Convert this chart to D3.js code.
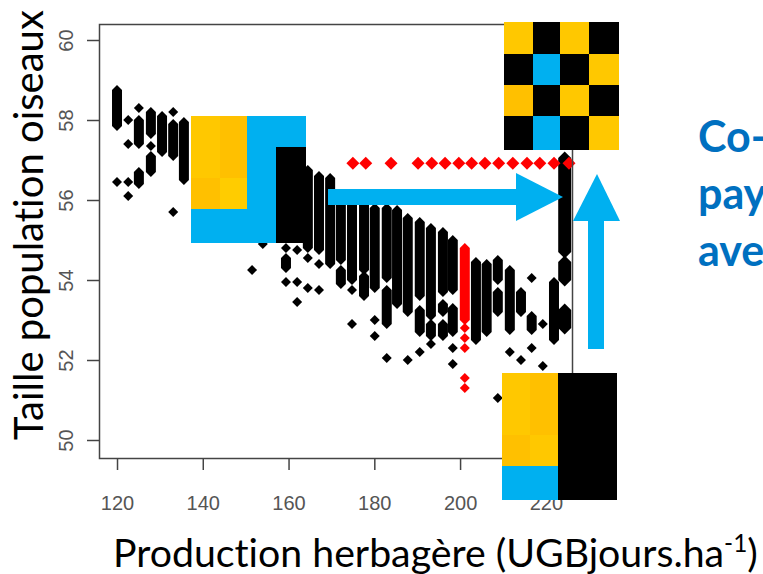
<!DOCTYPE html>
<html>
<head>
<meta charset="utf-8">
<script src="https://cdn.jsdelivr.net/npm/d3@7"></script>
<style>
  body { margin: 0; background: #fff; }
  svg { display: block; }
  text { font-variant-ligatures: none; }
</style>
</head>
<body>
<div id="chart"></div>
<script>
// --------------------------------------------------
// Taille population oiseaux vs production herbagère
// --------------------------------------------------

var width = 763;
var height = 574;

// axis ticks
var xTicks = [120, 140, 160, 180, 200, 220];
var yTicks = [50, 52, 54, 56, 58, 60];

// dense runs of black points: [production, top value, bottom value]
var blackRuns = [
  [120.0, 58.75, 57.85],
  [125.1, 58.0, 57.4], [125.1, 56.7, 56.4],
  [127.9, 58.2, 57.65], [127.9, 57.1, 56.7],
  [130.5, 58.1, 57.2],
  [133.1, 57.9, 57.1],
  [135.6, 57.95, 56.5],
  [159.4, 54.55, 54.3],
  [164.5, 56.75, 54.8],
  [167.1, 56.6, 54.75],
  [169.7, 56.55, 54.4],
  [172.2, 56.1, 54.5], [172.2, 54.25, 53.9],
  [174.8, 56.05, 54.0],
  [177.6, 55.9, 54.25], [177.6, 54.1, 53.6],
  [180.1, 55.8, 53.8],
  [182.9, 55.8, 54.05], [182.9, 53.75, 52.9],
  [185.3, 55.75, 53.4],
  [187.8, 55.55, 53.2],
  [190.6, 55.45, 53.6], [190.6, 53.25, 52.7],
  [193.2, 55.3, 53.1], [193.2, 52.9, 52.6],
  [196.0, 55.2, 53.7], [196.0, 53.4, 53.2], [196.0, 52.9, 52.6],
  [198.3, 55.0, 53.75], [198.3, 53.3, 52.7],
  [203.7, 54.45, 52.5],
  [206.2, 54.4, 52.7],
  [208.8, 54.5, 54.0], [208.8, 53.7, 53.2],
  [211.6, 54.25, 52.75],
  [214.2, 53.7, 53.2],
  [216.7, 53.1, 52.75],
  [221.9, 53.95, 52.5]
];

// single black points: [production, value]
var blackPoints = [
  [120.0, 56.45],
  [122.6, 58.0], [122.6, 57.4], [122.6, 56.45], [122.6, 56.1],
  [125.1, 58.3],
  [127.9, 57.35],
  [133.1, 58.2], [133.1, 55.7],
  [151.5, 54.25],
  [154.0, 54.9],
  [159.4, 54.8], [159.4, 53.95],
  [162.0, 54.75], [162.0, 53.95], [162.0, 53.45],
  [164.5, 54.55], [164.5, 53.8],
  [167.1, 54.4], [167.1, 53.75],
  [174.8, 53.75], [174.8, 52.9],
  [180.1, 53.0], [180.1, 52.6],
  [182.9, 52.05],
  [187.8, 52.0],
  [190.6, 52.2],
  [193.2, 52.4],
  [198.3, 52.3], [198.3, 51.9],
  [208.8, 51.05],
  [211.6, 52.2],
  [214.2, 52.0],
  [216.7, 54.05], [216.7, 52.3],
  [219.3, 52.9], [219.3, 51.85]
];

// last column (larger marks): [production, top value, bottom value]
var edgeRuns = [
  [224.4, 57.05, 54.7],
  [224.4, 54.45, 54.0],
  [224.4, 53.25, 52.8]
];

// red series
var redRowLevel = 56.92;
var redRowX = [175.0, 178.0, 183.9, 190.2, 193.4, 196.5, 199.7, 202.7,
               205.8, 209.0, 212.3, 215.6, 218.6, 221.9, 225.4];
var redRuns = [[201.1, 54.8, 53.0]];
var redPoints = [[201.1, 52.8], [201.1, 52.55], [201.1, 52.3], [201.1, 51.55], [201.1, 51.3]];

var blue = "#00B0F0";
var gold = "#FFC800";
var amber = "#FFC000";

var svg = d3.select("#chart")
  .append("svg")
  .attr("width", width)
  .attr("height", height);

svg.append("rect").attr("width", width).attr("height", height).attr("fill", "#fff");

var xScale = d3.scaleLinear().domain([115.8, 226.1]).range([99, 572]);
var yScale = d3.scaleLinear().domain([49.55, 60.4]).range([458, 24]);

// diamond shaped run from value a (top) to value b (bottom)
function diamondPath(x, a, b, r) {
  var cx = xScale(x), yt = yScale(a), yb = yScale(b);
  return "M" + cx + "," + (yt - r) +
    "L" + (cx + r) + "," + yt +
    "L" + (cx + r) + "," + yb +
    "L" + cx + "," + (yb + r) +
    "L" + (cx - r) + "," + yb +
    "L" + (cx - r) + "," + yt + "Z";
}

var plot = svg.append("g");

plot.selectAll(".run")
  .data(blackRuns)
  .enter()
  .append("path")
  .attr("d", function(d) { return diamondPath(d[0], d[1], d[2], 5); })
  .attr("fill", "#000");

plot.selectAll(".pt")
  .data(blackPoints)
  .enter()
  .append("path")
  .attr("d", function(d) { return diamondPath(d[0], d[1], d[1], 5); })
  .attr("fill", "#000");

plot.selectAll(".edge")
  .data(edgeRuns)
  .enter()
  .append("path")
  .attr("d", function(d) { return diamondPath(d[0], d[1], d[2], 6.5); })
  .attr("fill", "#000");

plot.selectAll(".redrun")
  .data(redRuns)
  .enter()
  .append("path")
  .attr("d", function(d) { return diamondPath(d[0], d[1], d[2], 5); })
  .attr("fill", "#f00");

plot.selectAll(".redpt")
  .data(redPoints)
  .enter()
  .append("path")
  .attr("d", function(d) { return diamondPath(d[0], d[1], d[1], 5); })
  .attr("fill", "#f00");

plot.selectAll(".redrow")
  .data(redRowX)
  .enter()
  .append("path")
  .attr("d", function(d) { return diamondPath(d, redRowLevel, redRowLevel, 6.5); })
  .attr("fill", "#f00");

// box round the plot
svg.append("rect")
  .attr("x", 99.5).attr("y", 24.5)
  .attr("width", 473).attr("height", 434)
  .attr("fill", "none")
  .attr("stroke", "#444")
  .attr("stroke-width", 1.5);

// axes, R style
var xAxis = svg.append("g")
  .attr("transform", "translate(0,458)")
  .call(d3.axisBottom(xScale).tickValues(xTicks).tickSize(12).tickPadding(26));
var yAxis = svg.append("g")
  .attr("transform", "translate(99,0)")
  .call(d3.axisLeft(yScale).tickValues(yTicks).tickSize(12));

[xAxis, yAxis].forEach(function(g) {
  g.select(".domain").remove();
  g.selectAll("line").attr("stroke", "#444").attr("stroke-width", 1.5);
  g.selectAll("text")
    .attr("fill", "#555")
    .style("font-family", "'Liberation Sans', Arial, sans-serif")
    .style("font-size", "20px");
});

xAxis.selectAll("text").attr("dy", null).attr("y", 52);
yAxis.selectAll("text")
  .attr("x", null).attr("dy", null)
  .attr("text-anchor", "middle")
  .attr("transform", "translate(-26,0) rotate(-90)");

// axis titles
function fitWidth(sel, target) {
  var w = sel.node().getComputedTextLength();
  var fs = parseFloat(sel.style("font-size"));
  sel.style("font-size", (fs * target / w) + "px");
}

var xTitle = svg.append("text")
  .attr("x", 113).attr("y", 567)
  .style("font-family", "Lato, 'Open Sans', sans-serif")
  .style("font-size", "36px")
  .attr("fill", "#000");
xTitle.append("tspan").text("Production herbagère (UGBjours.ha");
xTitle.append("tspan").attr("dy", -15).style("font-size", "0.62em").text("-1");
xTitle.append("tspan").attr("dy", 15).text(")");
fitWidth(xTitle, 645);

var yTitle = svg.append("text")
  .attr("transform", "translate(43,440) rotate(-90)")
  .style("font-family", "Lato, 'Open Sans', sans-serif")
  .style("font-size", "38px")
  .attr("fill", "#000")
  .text("Taille population oiseaux");
fitWidth(yTitle, 430);

// arrows
svg.append("rect").attr("x", 328).attr("y", 189).attr("width", 190).attr("height", 16).attr("fill", blue);
svg.append("polygon").attr("points", "516,173 563,197 516,221").attr("fill", blue);
svg.append("rect").attr("x", 588).attr("y", 219).attr("width", 16).attr("height", 130).attr("fill", blue);
svg.append("polygon").attr("points", "573,221 597,174 620,221").attr("fill", blue);

// landscape pictograms
function cells(list) {
  list.forEach(function(c) {
    svg.append("rect")
      .attr("x", c[0]).attr("y", c[1])
      .attr("width", c[2]).attr("height", c[3])
      .attr("fill", c[4]);
  });
}

cells([
  [191, 116, 115, 127, blue],
  [191, 116, 29, 62, gold], [220, 116, 27, 62, amber],
  [191, 178, 29, 31, amber], [220, 178, 27, 31, "#FFCC00"],
  [276, 147, 30, 96, "#000"]
]);

var colEdges = [504, 533, 560, 589, 619];
var rowEdges = [22, 54, 85, 116, 150];
var checker = [
  [gold, "#000", gold, "#000"],
  ["#000", blue, "#000", gold],
  [amber, "#000", gold, "#000"],
  ["#000", blue, "#000", gold]
];
checker.forEach(function(row, i) {
  row.forEach(function(col, j) {
    cells([[colEdges[j], rowEdges[i], colEdges[j + 1] - colEdges[j], rowEdges[i + 1] - rowEdges[i], col]]);
  });
});

cells([
  [502, 466, 56, 34, blue],
  [502, 373, 28, 62, gold], [530, 373, 28, 62, amber],
  [502, 435, 28, 31, amber], [530, 435, 28, 31, gold],
  [558, 373, 59, 127, "#000"]
]);

// text cut by the right edge of the slide, as in the source
var sideText = svg.append("g")
  .style("font-family", "Lato, 'Open Sans', sans-serif")
  .style("font-weight", "bold")
  .style("font-size", "43px")
  .attr("fill", "#0070C0");
sideText.append("text").attr("x", 698).attr("y", 152).text("Co-");
sideText.append("text").attr("x", 698).attr("y", 209).text("pay");
sideText.append("text").attr("x", 698).attr("y", 266).text("ave");
</script>
</body>
</html>
